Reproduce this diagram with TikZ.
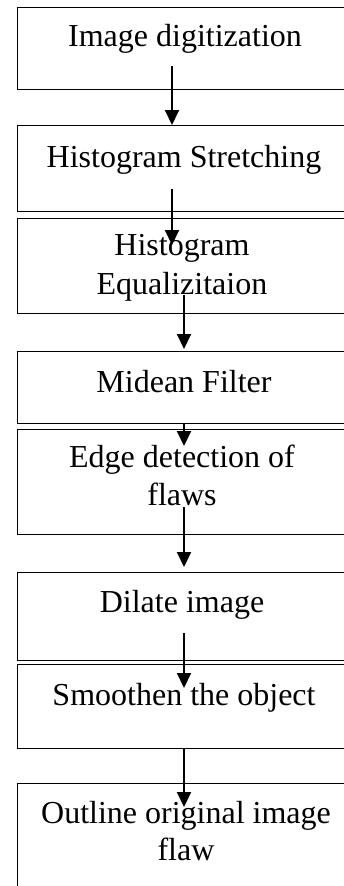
\documentclass[tikz,border=0pt]{standalone}
\usepackage{fontspec}
\setmainfont{Liberation Serif}
\usetikzlibrary{arrows.meta}
\begin{document}
\begin{tikzpicture}[x=1pt,y=-1pt,
  box/.style={draw=black, line width=1.2pt, anchor=north west, inner sep=0pt,
              minimum width=332pt},
  lbl/.style={anchor=base, inner sep=0pt, font=\fontsize{32}{37}\selectfont},
  arr/.style={draw=black, line width=2pt, -{Triangle[length=15pt,width=14pt]}}]
\useasboundingbox (0,0) rectangle (343,886);
% process boxes
\node[box, minimum height=82pt]  (b1) at (17,7)   {};
\node[box, minimum height=86pt]  (b2) at (17,125) {};
\node[box, minimum height=95pt]  (b3) at (17,218) {};
\node[box, minimum height=72pt]  (b4) at (17,351) {};
\node[box, minimum height=105pt] (b5) at (17,429) {};
\node[box, minimum height=88pt]  (b6) at (17,572) {};
\node[box, minimum height=84pt]  (b7) at (17,664) {};
\node[box, minimum height=120pt] (b8) at (17,783) {};
% labels
\node[lbl] (t1)  at (185,46)  {Image digitization};
\node[lbl] (t2)  at (184,167) {Histogram Stretching};
\node[lbl] (t3a) at (182,255) {Histogram};
\node[lbl] (t3b) at (182,294) {Equalizitaion};
\node[lbl] (t4)  at (184,392) {Midean Filter};
\node[lbl] (t5a) at (182,467) {Edge detection of};
\node[lbl] (t5b) at (182,505) {flaws};
\node[lbl] (t6)  at (182,612) {Dilate image};
\node[lbl] (t7)  at (184,705) {Smoothen the object};
\node[lbl] (t8a) at (186,823) {Outline original image};
\node[lbl] (t8b) at (186,860) {flaw};
% connector end points
\coordinate (s1) at (172,66);
\coordinate (s2) at (172,189);
\coordinate (e2) at (172,245);
\coordinate (s3) at (184,295);
\coordinate (e3) at (184,349);
\coordinate (e4) at (184,446);
\coordinate (s5) at (184,507);
\coordinate (e5) at (184,567);
\coordinate (s6) at (184,633);
\coordinate (e6) at (184,688);
\coordinate (e7) at (184,807);
% flow arrows
\draw[arr] (s1) -- (s1 |- b2.north);
\draw[arr] (s2) -- (e2);
\draw[arr] (s3) -- (e3);
\draw[arr] (s3 |- b4.south) -- (e4);
\draw[arr] (s5) -- (e5);
\draw[arr] (s6) -- (e6);
\draw[arr] (s6 |- b7.south) -- (e7);
\end{tikzpicture}
\end{document}
